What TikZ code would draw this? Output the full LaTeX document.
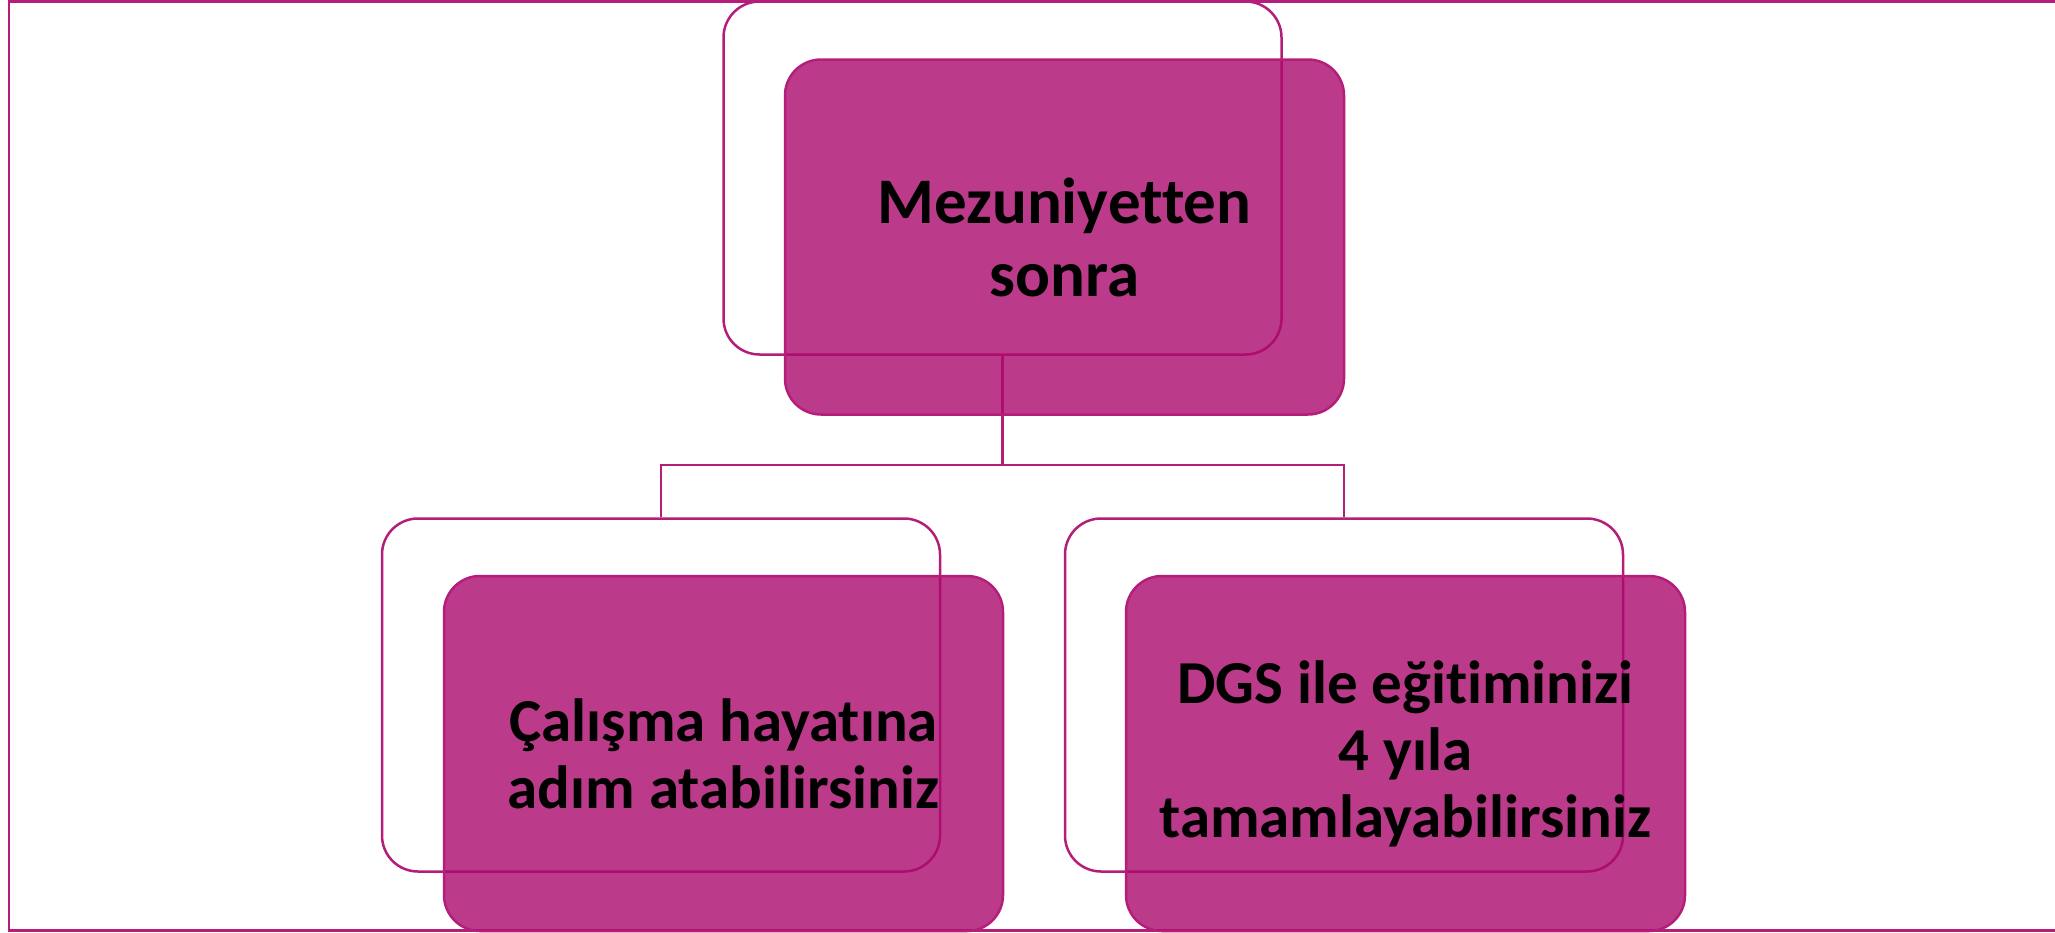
\documentclass[tikz,border=0pt]{standalone}
\usepackage{fontspec}
\setmainfont{Carlito}[Ligatures=NoCommon]
\usetikzlibrary{positioning}
\definecolor{boxfill}{RGB}{171,9,109}
\definecolor{boxline}{RGB}{180,30,122}

\begin{document}
\begin{tikzpicture}[x=1pt, y=-1pt,
    backbox/.style={draw=boxline, line width=2.5pt, rounded corners=36pt,
      minimum width=558pt, minimum height=353pt, inner sep=0pt},
    frontbox/.style={draw=boxline, line width=2.5pt, rounded corners=36pt,
      fill=boxfill, fill opacity=0.8, text opacity=1,
      minimum width=559pt, minimum height=355pt, inner sep=0pt, align=center},
    bigtext/.style={font=\fontsize{65}{73}\selectfont\bfseries},
    smalltext/.style={font=\fontsize{61}{67}\selectfont\bfseries}]
  \useasboundingbox (0,0) rectangle (2055,932);

  % outer frame, open on the right
  \draw[boxline, line width=2.5pt] (2060,1.5) -- (9,1.5) -- (9,930.5) -- (2060,930.5);

  % white boxes behind
  \node[backbox] (backTop) at (1002.5,178) {};
  \node[backbox] (backLeft) at (661,695) {};
  \node[backbox] (backRight) at (1344,695) {};

  % hierarchy lines
  \coordinate (bus) at (1002.5,465);
  \draw[boxline, line width=2.5pt] (backTop.south) -- (bus);
  \draw[boxline, line width=2.5pt] (backLeft.north) |- (bus) -| (backRight.north);

  % coloured boxes in front
  \node[frontbox, bigtext] (after) at (1064.5,237) {Mezuniyetten\\sonra};
  \node[frontbox, smalltext] (work) at (723.5,753.5) {Çalışma hayatına\\adım atabilirsiniz};
  \node[frontbox, smalltext] (dgs) at (1405.5,753.5) {DGS ile eğitiminizi\\4 yıla\\tamamlayabilirsiniz};

\end{tikzpicture}
\end{document}
